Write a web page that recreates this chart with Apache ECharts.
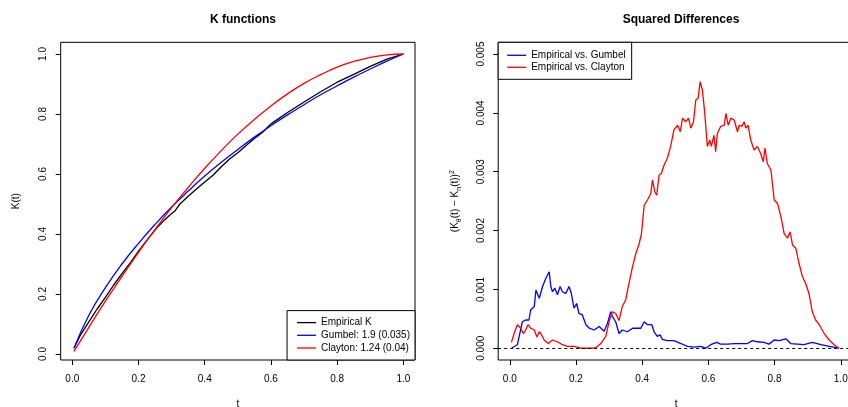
<!DOCTYPE html>
<html>
<head>
<meta charset="utf-8">
<script src="https://cdn.jsdelivr.net/npm/echarts@6/dist/echarts.min.js"></script>
<style>
  html, body { margin: 0; padding: 0; background: #fff; }
  #main { width: 848px; height: 407px; }
</style>
</head>
<body>
<div id="main"></div>
<script>
// left panel: K functions
var tEmp = [0.005, 0.025, 0.05, 0.075, 0.1, 0.125, 0.15, 0.175, 0.2, 0.225, 0.25, 0.275, 0.3, 0.31, 0.325,
  0.35, 0.375, 0.4, 0.425, 0.45, 0.475, 0.5, 0.525, 0.55, 0.575, 0.6, 0.65, 0.7, 0.75, 0.8, 0.85, 0.9, 0.95, 1.0];
var kEmp = [0.019, 0.064, 0.107, 0.150, 0.189, 0.230, 0.268, 0.304, 0.343, 0.379, 0.414, 0.443, 0.468, 0.477, 0.500,
  0.526, 0.550, 0.573, 0.596, 0.624, 0.650, 0.671, 0.695, 0.718, 0.739, 0.767, 0.805, 0.840, 0.874, 0.906, 0.932, 0.959, 0.983, 1.0];

var tModel = [0.005, 0.05, 0.1, 0.15, 0.2, 0.25, 0.3, 0.35, 0.4, 0.45, 0.5, 0.55, 0.6, 0.65, 0.7, 0.75, 0.8, 0.85, 0.9, 0.95, 1.0];
var kGumbel = [0.019, 0.129, 0.221, 0.300, 0.369, 0.432, 0.490, 0.543, 0.593, 0.639, 0.682, 0.723, 0.761, 0.797, 0.831, 0.864, 0.894, 0.923, 0.950, 0.976, 1.0];
var kClayton = [0.009, 0.089, 0.176, 0.259, 0.339, 0.415, 0.488, 0.555, 0.619, 0.678, 0.733, 0.782, 0.827, 0.867, 0.902, 0.931, 0.956, 0.975, 0.989, 0.997, 1.0];

// right panel: squared differences (x 1e-3)
var tGum = [0.005, 0.023, 0.038, 0.048, 0.058, 0.063, 0.074, 0.079, 0.089, 0.099, 0.109, 0.119, 0.124, 0.129, 0.136, 0.144,
  0.152, 0.159, 0.169, 0.179, 0.186, 0.194, 0.202, 0.209, 0.219, 0.230, 0.240, 0.255, 0.270, 0.285, 0.295, 0.305, 0.310,
  0.320, 0.330, 0.340, 0.355, 0.371, 0.386, 0.396, 0.406, 0.416, 0.429, 0.436, 0.446, 0.454, 0.461, 0.476, 0.496, 0.517,
  0.537, 0.557, 0.577, 0.592, 0.607, 0.625, 0.637, 0.658, 0.678, 0.698, 0.718, 0.733, 0.748, 0.768, 0.783, 0.799, 0.814,
  0.834, 0.849, 0.869, 0.889, 0.914, 0.940, 0.965, 0.995];
var dGum = [0.00, 0.06, 0.45, 0.48, 0.48, 0.65, 0.71, 0.99, 0.85, 1.05, 1.19, 1.30, 1.05, 0.96, 1.02, 0.91,
  1.05, 0.96, 0.93, 1.05, 0.93, 0.68, 0.76, 0.59, 0.57, 0.40, 0.34, 0.31, 0.37, 0.29, 0.42, 0.62, 0.54,
  0.45, 0.25, 0.31, 0.28, 0.34, 0.34, 0.34, 0.45, 0.40, 0.40, 0.28, 0.20, 0.23, 0.15, 0.13, 0.13, 0.08,
  0.03, 0.02, 0.03, 0.00, 0.06, 0.10, 0.07, 0.07, 0.08, 0.08, 0.08, 0.13, 0.11, 0.10, 0.07, 0.14, 0.13,
  0.16, 0.08, 0.07, 0.06, 0.10, 0.06, 0.03, 0.00];

var tCla = [0.005, 0.013, 0.023, 0.033, 0.041, 0.048, 0.055, 0.063, 0.074, 0.082, 0.089, 0.096, 0.104, 0.116, 0.129, 0.144,
  0.159, 0.174, 0.194, 0.215, 0.245, 0.260, 0.275, 0.290, 0.300, 0.310, 0.320, 0.330, 0.340, 0.350, 0.360, 0.371, 0.381,
  0.391, 0.398, 0.406, 0.416, 0.426, 0.431, 0.438, 0.444, 0.451, 0.458, 0.466, 0.476, 0.486, 0.496, 0.507, 0.515, 0.522,
  0.532, 0.540, 0.547, 0.555, 0.562, 0.569, 0.575, 0.582, 0.589, 0.597, 0.604, 0.609, 0.617, 0.622, 0.627, 0.637, 0.648,
  0.653, 0.660, 0.668, 0.678, 0.688, 0.693, 0.701, 0.708, 0.713, 0.720, 0.728, 0.738, 0.748, 0.758, 0.766, 0.771, 0.778,
  0.789, 0.799, 0.809, 0.819, 0.829, 0.839, 0.847, 0.854, 0.864, 0.874, 0.884, 0.894, 0.904, 0.914, 0.924, 0.935, 0.950,
  0.965, 0.980, 0.995];
var dCla = [0.10, 0.25, 0.40, 0.34, 0.25, 0.31, 0.40, 0.34, 0.31, 0.19, 0.28, 0.23, 0.14, 0.08, 0.14, 0.11,
  0.06, 0.03, 0.03, 0.00, 0.00, 0.01, 0.08, 0.20, 0.45, 0.62, 0.59, 0.47, 0.71, 0.82, 1.10, 1.39, 1.61,
  1.78, 1.95, 2.43, 2.52, 2.63, 2.86, 2.66, 2.60, 2.94, 2.97, 3.11, 3.23, 3.43, 3.71, 3.79, 3.68, 3.91,
  3.85, 3.91, 3.74, 3.85, 4.22, 4.25, 4.53, 4.39, 4.00, 3.43, 3.54, 3.43, 3.62, 3.34, 3.65, 3.77, 3.79,
  3.99, 3.79, 3.91, 3.88, 3.68, 3.79, 3.77, 3.85, 3.74, 3.79, 3.54, 3.37, 3.43, 3.31, 3.17, 3.40, 3.14,
  3.03, 2.52, 2.46, 2.24, 1.95, 1.87, 1.98, 1.76, 1.70, 1.44, 1.22, 1.10, 0.93, 0.62, 0.48, 0.40, 0.25,
  0.14, 0.06, 0.00];

var xTicks = [0, 0.2, 0.4, 0.6, 0.8, 1.0];
var yTicksK = [0, 0.2, 0.4, 0.6, 0.8, 1.0];
var yTicksD = [0, 0.001, 0.002, 0.003, 0.004, 0.005];

function pairs(xs, ys, scale) {
  return xs.map(function (x, i) { return [x, ys[i] * (scale || 1)]; });
}

var FONT = 'Liberation Sans, Arial, Helvetica, sans-serif';
var TXT = { fontFamily: FONT, fontSize: 10, color: '#000' };

// the axes sit on the box edge through onZero against a hidden helper axis that starts at 0
function rAxis(gridIndex, min, max, ticks, digits, zeroIdx, margin, rot, extra) {
  var ax = {
    type: 'value', gridIndex: gridIndex, min: min, max: max,
    nameLocation: 'middle', nameTextStyle: TXT,
    splitLine: { show: false },
    axisLine: { show: false, onZero: true, onZeroAxisIndex: zeroIdx },
    axisTick: { show: true, length: 5, customValues: ticks, lineStyle: { color: '#000', width: 1 } },
    axisLabel: Object.assign({ customValues: ticks, margin: margin, rotate: rot,
      formatter: function (v) { return v.toFixed(digits); } }, TXT)
  };
  return Object.assign(ax, extra || {});
}

function helper(gridIndex) {
  return { type: 'value', gridIndex: gridIndex, min: 0, max: 1, show: false,
    axisLine: { onZero: false }, splitLine: { show: false } };
}

var chart = echarts.init(document.getElementById('main'));
chart.setOption({
  animation: false,
  backgroundColor: '#fff',
  textStyle: { fontFamily: FONT },
  title: [
    { text: 'K functions', left: 238, top: 9, textAlign: 'center',
      textStyle: { fontFamily: FONT, fontSize: 12, fontWeight: 'bold', color: '#000' } },
    { text: 'Squared Differences', left: 676, top: 9, textAlign: 'center',
      textStyle: { fontFamily: FONT, fontSize: 12, fontWeight: 'bold', color: '#000' } }
  ],
  grid: [
    { left: 60.7, top: 42.3, width: 354.3, height: 317.7, show: true, borderColor: '#000', borderWidth: 1, outerBoundsMode: 'none', containLabel: false },
    { left: 498.2, top: 42.3, width: 355.8, height: 317.7, show: true, borderColor: '#000', borderWidth: 1, outerBoundsMode: 'none', containLabel: false }
  ],
  xAxis: [
    rAxis(0, -0.035, 1.035, xTicks, 1, 2, 14, 0, { name: 't', nameGap: 39 }),
    rAxis(1, -0.035, 1.04, xTicks, 1, 3, 14, 0, { name: 't', nameGap: 39 }),
    helper(0),
    helper(1)
  ],
  yAxis: [
    rAxis(0, -0.02, 1.039, yTicksK, 1, 2, 12, 90, { name: 'K(t)', nameGap: 39, nameRotate: 90 }),
    rAxis(1, -0.0002, 0.0052, yTicksD, 3, 3, 12, 90, {
      name: '(K{sub|θ}(t) − K{sub|n}(t)){sup|2}', nameGap: 36, nameRotate: 90,
      nameTextStyle: { fontFamily: FONT, fontSize: 10, color: '#000', lineHeight: 14,
        rich: {
          sub: { fontFamily: FONT, fontSize: 7, lineHeight: 8, verticalAlign: 'bottom', color: '#000' },
          sup: { fontFamily: FONT, fontSize: 7, lineHeight: 8, verticalAlign: 'top', color: '#000' }
        } }
    }),
    helper(0),
    helper(1)
  ],
  legend: [
    {
      data: ['Empirical K', 'Gumbel: 1.9 (0.035)', 'Clayton: 1.24 (0.04)'],
      orient: 'vertical', right: 433, bottom: 47, itemGap: 0.7, itemWidth: 19, itemHeight: 1.3, icon: 'rect',
      padding: [6, 5, 6, 10], borderColor: '#000', borderWidth: 1, borderRadius: 0, backgroundColor: '#fff',
      textStyle: { fontFamily: FONT, fontSize: 10, color: '#000', lineHeight: 12 }
    },
    {
      data: ['Empirical vs. Gumbel', 'Empirical vs. Clayton'],
      orient: 'vertical', left: 498.2, top: 42.3, itemGap: 0, itemWidth: 19, itemHeight: 1.3, icon: 'rect',
      padding: [7, 6, 6, 9], borderColor: '#000', borderWidth: 1, borderRadius: 0, backgroundColor: '#fff',
      textStyle: { fontFamily: FONT, fontSize: 10, color: '#000', lineHeight: 12 }
    }
  ],
  series: [
    { name: 'Empirical K', type: 'line', xAxisIndex: 0, yAxisIndex: 0, data: pairs(tEmp, kEmp),
      symbol: 'none', color: '#000', lineStyle: { width: 1.3, color: '#000' } },
    { name: 'Gumbel: 1.9 (0.035)', type: 'line', xAxisIndex: 0, yAxisIndex: 0, data: pairs(tModel, kGumbel),
      symbol: 'none', smooth: true, color: '#0000ff', lineStyle: { width: 1.3, color: '#0000ff' } },
    { name: 'Clayton: 1.24 (0.04)', type: 'line', xAxisIndex: 0, yAxisIndex: 0, data: pairs(tModel, kClayton),
      symbol: 'none', smooth: true, color: '#ff0000', lineStyle: { width: 1.3, color: '#ff0000' } },
    { name: 'Empirical vs. Gumbel', type: 'line', xAxisIndex: 1, yAxisIndex: 1, data: pairs(tGum, dGum, 0.001),
      symbol: 'none', color: '#0000ff', lineStyle: { width: 1.3, color: '#0000ff' },
      markLine: { silent: true, symbol: 'none', label: { show: false },
        lineStyle: { color: '#000', type: [3, 3], width: 1 }, data: [{ yAxis: 0 }] } },
    { name: 'Empirical vs. Clayton', type: 'line', xAxisIndex: 1, yAxisIndex: 1, data: pairs(tCla, dCla, 0.001),
      symbol: 'none', color: '#ff0000', lineStyle: { width: 1.3, color: '#ff0000' } }
  ]
});
</script>
</body>
</html>
